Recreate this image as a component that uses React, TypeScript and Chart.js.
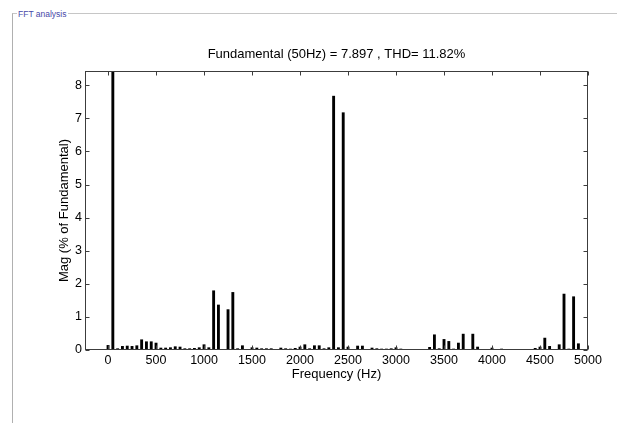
import { useEffect, useRef } from "react";
import { Chart, registerables } from "chart.js";

Chart.register(...registerables);

const panelLabel = "FFT analysis";
const titleText = "Fundamental (50Hz) = 7.897 , THD= 11.82%";
const xLabel = "Frequency (Hz)";
const yLabel = "Mag (% of Fundamental)";

const frequencies = [
  0, 50, 100, 150, 200, 250, 300, 350, 400, 450,
  500, 550, 600, 650, 700, 750, 800, 850, 900, 950,
  1000, 1050, 1100, 1150, 1200, 1250, 1300, 1350, 1400, 1450,
  1500, 1550, 1600, 1650, 1700, 1750, 1800, 1850, 1900, 1950,
  2000, 2050, 2100, 2150, 2200, 2250, 2300, 2350, 2400, 2450,
  2500, 2550, 2600, 2650, 2700, 2750, 2800, 2850, 2900, 2950,
  3000, 3050, 3100, 3150, 3200, 3250, 3300, 3350, 3400, 3450,
  3500, 3550, 3600, 3650, 3700, 3750, 3800, 3850, 3900, 3950,
  4000, 4050, 4100, 4150, 4200, 4250, 4300, 4350, 4400, 4450,
  4500, 4550, 4600, 4650, 4700, 4750, 4800, 4850, 4900, 4950,
  5000,
];

const magnitudes = [
  0.15, 100, 0.05, 0.12, 0.13, 0.12, 0.14, 0.32, 0.26, 0.26,
  0.22, 0.07, 0.07, 0.08, 0.11, 0.1, 0.05, 0.05, 0.06, 0.08,
  0.17, 0.08, 1.8, 1.37, 0.02, 1.23, 1.75, 0.05, 0.14, 0.03,
  0.08, 0.07, 0.05, 0.05, 0.05, 0.03, 0.07, 0.05, 0.04, 0.06,
  0.1, 0.17, 0.05, 0.14, 0.14, 0.05, 0.08, 7.68, 0.08, 7.18,
  0.1, 0.03, 0.13, 0.13, 0.03, 0.07, 0.05, 0.04, 0.04, 0.05,
  0.08, 0.04, 0.03, 0.03, 0.03, 0.03, 0.03, 0.09, 0.47, 0.05,
  0.33, 0.27, 0.04, 0.22, 0.49, 0.03, 0.49, 0.1, 0.03, 0.03,
  0.07, 0.03, 0.04, 0.03, 0.03, 0.03, 0.03, 0.03, 0.03, 0.06,
  0.1, 0.37, 0.12, 0.03, 0.17, 1.7, 0.04, 1.62, 0.2, 0.02,
  0.02,
];

const xTicks = [0, 500, 1000, 1500, 2000, 2500, 3000, 3500, 4000, 4500, 5000];
const yTicks = [0, 1, 2, 3, 4, 5, 6, 7, 8];
const xMin = -240;
const xMax = 5000;
const yMin = 0;
const yMax = 8.43;

const FONT = "'Liberation Sans', Arial, Helvetica, sans-serif";

const boxPlugin = {
  id: "matlabBox",
  afterDatasetsDraw(chart: any) {
    const { ctx, chartArea: a, scales } = chart;
    const L = Math.round(a.left) + 0.5;
    const R = Math.round(a.right) - 0.5;
    const T = Math.round(a.top) + 0.5;
    const B = Math.round(a.bottom) - 0.5;
    ctx.save();
    ctx.strokeStyle = "#3c3c3c";
    ctx.lineWidth = 1;
    ctx.strokeRect(L, T, R - L, B - T);
    const tl = 4;
    ctx.beginPath();
    for (const v of xTicks) {
      const px = Math.round(scales.x.getPixelForValue(v)) + 0.5;
      ctx.moveTo(px, B);
      ctx.lineTo(px, B - tl);
      ctx.moveTo(px, T);
      ctx.lineTo(px, T + tl);
    }
    for (const v of yTicks) {
      const py = Math.round(scales.y.getPixelForValue(v)) + 0.5;
      ctx.moveTo(L, py);
      ctx.lineTo(L + tl, py);
      ctx.moveTo(R, py);
      ctx.lineTo(R - tl, py);
    }
    ctx.stroke();
    ctx.restore();
  },
};

export default function App() {
  const ref = useRef<HTMLCanvasElement | null>(null);

  useEffect(() => {
    if (!ref.current) return;
    Chart.defaults.font.family = FONT;
    const chart = new Chart(ref.current, {
      type: "bar",
      data: {
        datasets: [
          {
            data: frequencies.map((f, i) => ({ x: f, y: magnitudes[i] })),
            backgroundColor: "#000000",
            borderWidth: 0,
            barPercentage: 0.6,
            categoryPercentage: 1,
          },
        ],
      },
      options: {
        animation: false,
        responsive: false,
        devicePixelRatio: 1,
        layout: { padding: { left: 0, right: 29, top: 0, bottom: 41.2 } },
        plugins: {
          legend: { display: false },
          tooltip: { enabled: false },
          title: {
            display: true,
            text: titleText,
            fullSize: false,
            color: "#000",
            font: { family: FONT, size: 13, weight: "normal" },
            padding: { top: 46.2, bottom: 9.2 },
          },
        },
        scales: {
          x: {
            type: "linear",
            offset: false,
            min: xMin,
            max: xMax,
            grid: { display: false, drawTicks: false, tickLength: 0 },
            border: { display: false },
            afterBuildTicks: (s: any) => {
              s.ticks = xTicks.map((v) => ({ value: v }));
            },
            afterFit: (s: any) => {
              s.height = 31.8;
            },
            ticks: {
              color: "#000",
              font: { family: FONT, size: 12.5 },
              padding: 3,
              maxRotation: 0,
              autoSkip: false,
              callback: (v: any) => String(v),
            },
            title: {
              display: true,
              text: xLabel,
              color: "#000",
              font: { family: FONT, size: 13 },
              padding: { top: 0, bottom: 0 },
            },
          },
          y: {
            type: "linear",
            min: yMin,
            max: yMax,
            grid: { display: false, drawTicks: false, tickLength: 0 },
            border: { display: false },
            afterBuildTicks: (s: any) => {
              s.ticks = yTicks.map((v) => ({ value: v }));
            },
            afterFit: (s: any) => {
              s.width = 85;
            },
            ticks: {
              color: "#000",
              font: { family: FONT, size: 12.5 },
              padding: 3,
              autoSkip: false,
              callback: (v: any) => String(v),
            },
            title: {
              display: true,
              text: yLabel,
              color: "#000",
              font: { family: FONT, size: 13 },
              padding: { top: 57, bottom: 0 },
            },
          },
        },
      },
      plugins: [boxPlugin],
    });
    return () => chart.destroy();
  }, []);

  return (
    <div
      style={{
        position: "fixed",
        left: 0,
        top: 0,
        width: 617,
        height: 423,
        background: "#ffffff",
        overflow: "hidden",
      }}
    >
      <canvas
        ref={ref}
        width={617}
        height={423}
        style={{ position: "absolute", left: 0, top: 0, width: 617, height: 423 }}
      />
      <div
        style={{
          position: "absolute",
          left: 12,
          top: 13,
          right: 0,
          bottom: 0,
          borderTop: "1px solid #c6c6c6",
          borderLeft: "1px solid #b0b0b0",
        }}
      />
      <span
        style={{
          position: "absolute",
          left: 17,
          top: 9,
          fontFamily: FONT,
          fontSize: 8.5,
          lineHeight: "10px",
          color: "#4848a8",
          background: "#ffffff",
          padding: "0 1px",
          whiteSpace: "nowrap",
        }}
      >
        {panelLabel}
      </span>
    </div>
  );
}
